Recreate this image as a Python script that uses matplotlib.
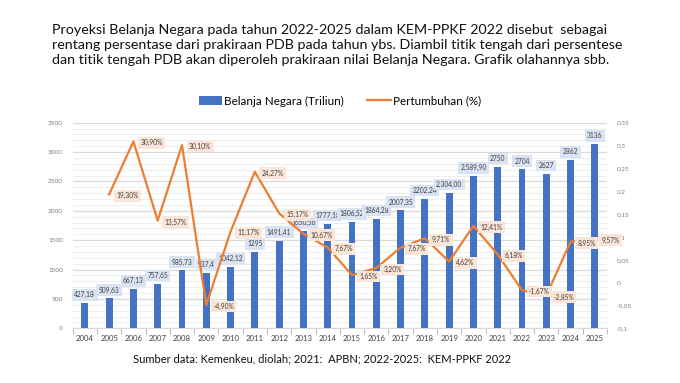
import matplotlib
matplotlib.use("Agg")
import matplotlib.pyplot as plt
from matplotlib.ticker import MultipleLocator, FixedLocator, FuncFormatter
from matplotlib.patches import Patch
from matplotlib.lines import Line2D

years = [str(y) for y in range(2004, 2026)]
belanja = [427.18, 509.63, 667.13, 757.65, 985.73, 937.4, 1042.12, 1295, 1491.41,
           1650.56, 1777.18, 1806.52, 1864.28, 2007.35, 2202.24, 2304.00, 2589.90,
           2750, 2704, 2627, 2862, 3136]
belanja_labels = ["427,18", "509,63", "667,13", "757,65", "985,73", "937,4", "1042,12",
                  "1295", "1491,41", "1650,56", "1777,18", "1806,52", "1864,28",
                  "2007,35", "2202,24", "2.304,00", "2.589,90", "2750", "2704",
                  "2627", "2862", "3136"]
growth_years = [str(y) for y in range(2005, 2026)]
growth = [19.30, 30.90, 13.57, 30.10, -4.90, 11.17, 24.27, 15.17, 10.67, 7.67, 1.65,
          3.20, 7.67, 9.71, 4.62, 12.41, 6.18, -1.67, -2.85, 8.95, 9.57]

plt.rcParams['font.family'] = ['Lato', 'DejaVu Sans']

fig = plt.figure(figsize=(6.8, 3.83), dpi=100)
fig.patch.set_facecolor('white')

title = ("Proyeksi Belanja Negara pada tahun 2022-2025 dalam KEM-PPKF 2022 disebut  sebagai\n"
         "rentang persentase dari prakiraan PDB pada tahun ybs. Diambil titik tengah dari persentese\n"
         "dan titik tengah PDB akan diperoleh prakiraan nilai Belanja Negara. Grafik olahannya sbb.")
fig.text(52/680, 1-24/383, title, ha='left', va='top', fontsize=10.3, color='#111111',
         linespacing=1.3)

ax = fig.add_axes([72.7/680, 1-328.3/383, (607-72.7)/680, (328.3-122.7)/383])
ax2 = ax.twinx()

x = list(range(len(years)))
ax.bar(x, belanja, width=0.28, color='#4472C4', zorder=3)
ax.set_xlim(-0.5, len(years)-0.5)
ax.set_ylim(0, 3500)
ax2.set_ylim(-0.1, 0.35)

# grid
ax.yaxis.set_major_locator(MultipleLocator(500))
ax.yaxis.set_minor_locator(MultipleLocator(100))
ax.grid(axis='y', which='major', color='#d9d9d9', lw=0.9, zorder=0)
ax.grid(axis='y', which='minor', color='#eeeeee', lw=0.7, zorder=0)
ax.set_axisbelow(True)

ax.set_xticks(x)
ax.set_xticklabels(years, fontsize=5.6, color='#404040')
ax.xaxis.set_minor_locator(FixedLocator([i-0.5 for i in range(len(years)+1)]))
ax.tick_params(axis='x', which='major', length=0, pad=5)
ax.tick_params(axis='x', which='minor', length=4, color='#bfbfbf', width=0.8)
ax.tick_params(axis='y', which='both', length=0, labelsize=4.6, labelcolor='#7f7f7f', pad=7)
ax.yaxis.set_major_formatter(FuncFormatter(lambda v, p: f"{int(v)}"))

for s in ['top', 'left', 'right']:
    ax.spines[s].set_visible(False)
    ax2.spines[s].set_visible(False)
ax.spines['bottom'].set_color('#d9d9d9')
ax2.spines['bottom'].set_visible(False)

ax2.yaxis.set_major_locator(MultipleLocator(0.05))
ax2.tick_params(axis='y', length=0, labelsize=4.6, labelcolor='#7f7f7f', pad=7)
def rfmt(v, p):
    s = f"{v:.2f}".rstrip('0').rstrip('.')
    if s in ('-0', '0.'):
        s = '0'
    return s.replace('.', ',')
ax2.yaxis.set_major_formatter(FuncFormatter(rfmt))

# bar labels
for xi, v, lab in zip(x, belanja, belanja_labels):
    ax.annotate(lab, (xi, v), xytext=(0, 3.5), textcoords='offset points',
                ha='center', va='bottom', fontsize=4.8, color='#404040', zorder=6,
                bbox=dict(boxstyle='square,pad=0.35', fc='#dae3f3', ec='none'))

# growth line
gx = [years.index(y) for y in growth_years]
gv = [g/100 for g in growth]
ax2.plot(gx, gv, color='#ED7D31', lw=1.6, zorder=4)
for xi, v in zip(gx, gv):
    lab = f"{v*100:.2f}%".replace('.', ',')
    ax2.annotate(lab, (xi, v), xytext=(5, -1), textcoords='offset points',
                 ha='left', va='center', fontsize=4.8, color='#404040', zorder=7,
                 bbox=dict(boxstyle='square,pad=0.35', fc='#fbe5d6', ec='none'))

handles = [Patch(facecolor='#4472C4', edgecolor='none'),
           Line2D([0], [0], color='#ED7D31', lw=1.6)]
fig.legend(handles, ['Belanja Negara (Triliun)', 'Pertumbuhan (%)'], loc='center',
           bbox_to_anchor=(0.5, 1-101/383), ncol=2, frameon=False, fontsize=8.4,
           handlelength=2.0, handleheight=0.7, columnspacing=2.0, handletextpad=0.2)

fig.text(133/680, 1-359/383,
         "Sumber data: Kemenkeu, diolah; 2021:  APBN; 2022-2025:  KEM-PPKF 2022",
         ha='left', va='center', fontsize=8, color='#111111')

fig.savefig('out.png', dpi=100)
